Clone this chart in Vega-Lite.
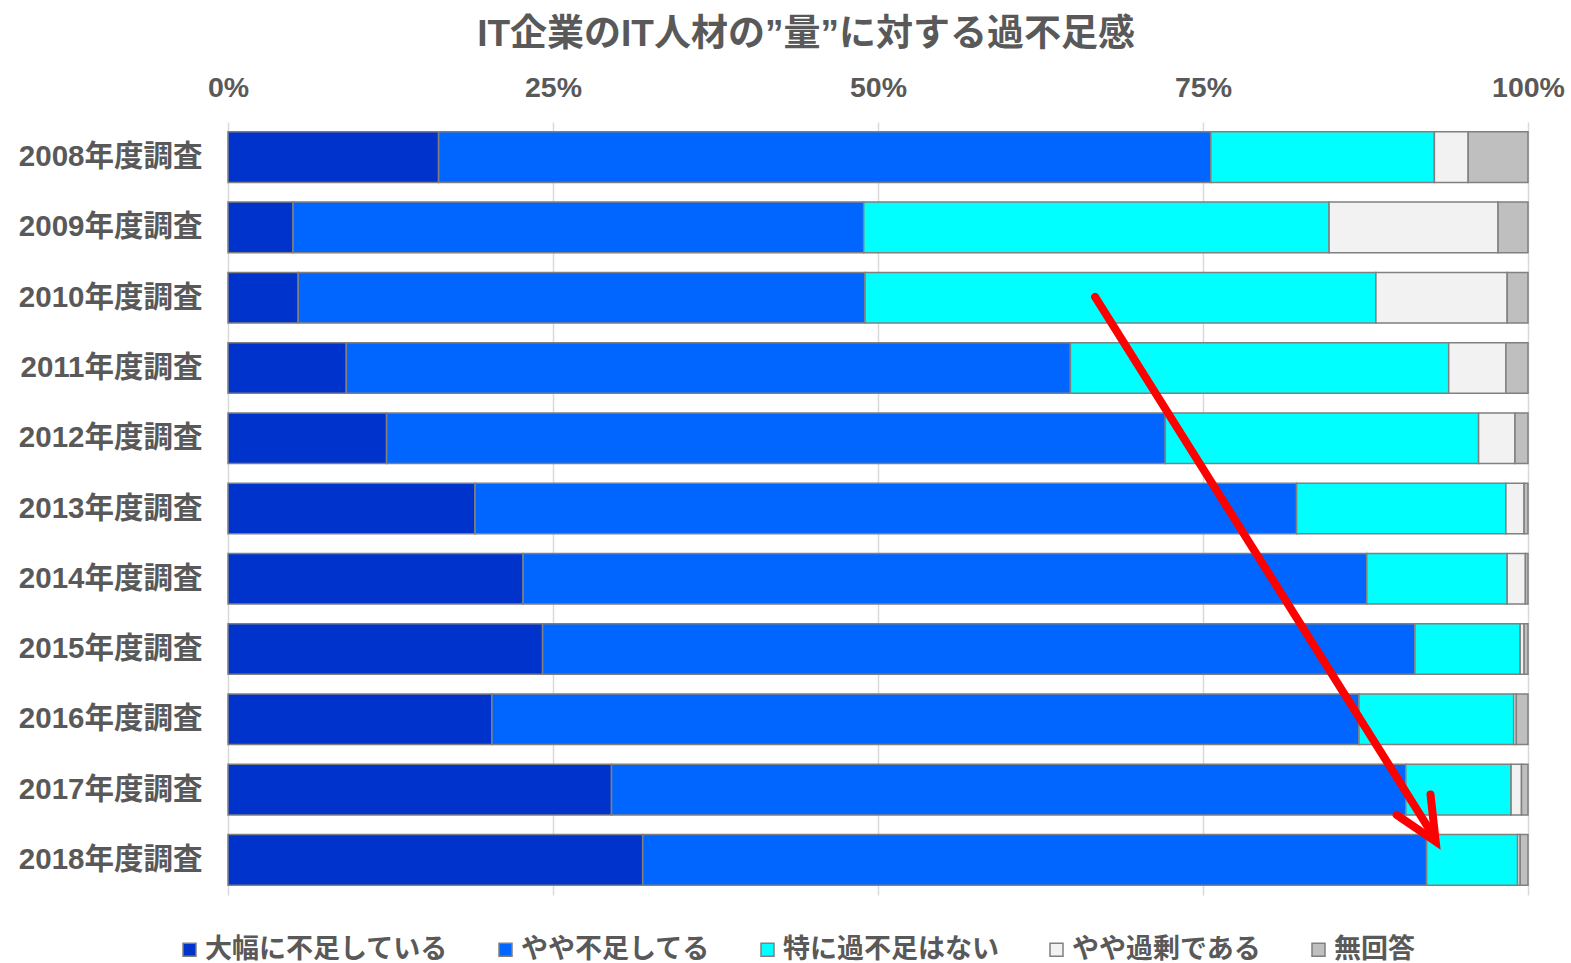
{
  "$schema": "https://vega.github.io/schema/vega-lite/v6.json",
  "autosize": {"type": "none"},
  "width": 1300,
  "height": 773,
  "padding": {"left": 228, "top": 122, "right": 43, "bottom": 68},
  "title": {
    "text": "IT企業のIT人材の”量”に対する過不足感",
    "fontSize": 37,
    "fontWeight": "bold",
    "color": "#595959",
    "anchor": "middle",
    "dx": -72,
    "offset": 19
  },
  "config": {
    "view": {"stroke": null},
    "font": "Liberation Sans, Noto Sans CJK JP"
  },
  "datasets": {
    "bars": [
      {"year": "2008年度調査", "cat": "大幅に不足している", "k": 0, "v": 16.2},
      {"year": "2008年度調査", "cat": "やや不足してる", "k": 1, "v": 59.4},
      {"year": "2008年度調査", "cat": "特に過不足はない", "k": 2, "v": 17.2},
      {"year": "2008年度調査", "cat": "やや過剰である", "k": 3, "v": 2.6},
      {"year": "2008年度調査", "cat": "無回答", "k": 4, "v": 4.6},
      {"year": "2009年度調査", "cat": "大幅に不足している", "k": 0, "v": 5.0},
      {"year": "2009年度調査", "cat": "やや不足してる", "k": 1, "v": 43.9},
      {"year": "2009年度調査", "cat": "特に過不足はない", "k": 2, "v": 35.8},
      {"year": "2009年度調査", "cat": "やや過剰である", "k": 3, "v": 13.0},
      {"year": "2009年度調査", "cat": "無回答", "k": 4, "v": 2.3},
      {"year": "2010年度調査", "cat": "大幅に不足している", "k": 0, "v": 5.4},
      {"year": "2010年度調査", "cat": "やや不足してる", "k": 1, "v": 43.6},
      {"year": "2010年度調査", "cat": "特に過不足はない", "k": 2, "v": 39.3},
      {"year": "2010年度調査", "cat": "やや過剰である", "k": 3, "v": 10.1},
      {"year": "2010年度調査", "cat": "無回答", "k": 4, "v": 1.6},
      {"year": "2011年度調査", "cat": "大幅に不足している", "k": 0, "v": 9.1},
      {"year": "2011年度調査", "cat": "やや不足してる", "k": 1, "v": 55.7},
      {"year": "2011年度調査", "cat": "特に過不足はない", "k": 2, "v": 29.1},
      {"year": "2011年度調査", "cat": "やや過剰である", "k": 3, "v": 4.4},
      {"year": "2011年度調査", "cat": "無回答", "k": 4, "v": 1.7},
      {"year": "2012年度調査", "cat": "大幅に不足している", "k": 0, "v": 12.2},
      {"year": "2012年度調査", "cat": "やや不足してる", "k": 1, "v": 59.9},
      {"year": "2012年度調査", "cat": "特に過不足はない", "k": 2, "v": 24.1},
      {"year": "2012年度調査", "cat": "やや過剰である", "k": 3, "v": 2.8},
      {"year": "2012年度調査", "cat": "無回答", "k": 4, "v": 1.0},
      {"year": "2013年度調査", "cat": "大幅に不足している", "k": 0, "v": 19.0},
      {"year": "2013年度調査", "cat": "やや不足してる", "k": 1, "v": 63.2},
      {"year": "2013年度調査", "cat": "特に過不足はない", "k": 2, "v": 16.1},
      {"year": "2013年度調査", "cat": "やや過剰である", "k": 3, "v": 1.4},
      {"year": "2013年度調査", "cat": "無回答", "k": 4, "v": 0.3},
      {"year": "2014年度調査", "cat": "大幅に不足している", "k": 0, "v": 22.7},
      {"year": "2014年度調査", "cat": "やや不足してる", "k": 1, "v": 64.9},
      {"year": "2014年度調査", "cat": "特に過不足はない", "k": 2, "v": 10.8},
      {"year": "2014年度調査", "cat": "やや過剰である", "k": 3, "v": 1.4},
      {"year": "2014年度調査", "cat": "無回答", "k": 4, "v": 0.2},
      {"year": "2015年度調査", "cat": "大幅に不足している", "k": 0, "v": 24.2},
      {"year": "2015年度調査", "cat": "やや不足してる", "k": 1, "v": 67.1},
      {"year": "2015年度調査", "cat": "特に過不足はない", "k": 2, "v": 8.1},
      {"year": "2015年度調査", "cat": "やや過剰である", "k": 3, "v": 0.3},
      {"year": "2015年度調査", "cat": "無回答", "k": 4, "v": 0.3},
      {"year": "2016年度調査", "cat": "大幅に不足している", "k": 0, "v": 20.3},
      {"year": "2016年度調査", "cat": "やや不足してる", "k": 1, "v": 66.7},
      {"year": "2016年度調査", "cat": "特に過不足はない", "k": 2, "v": 11.9},
      {"year": "2016年度調査", "cat": "やや過剰である", "k": 3, "v": 0.2},
      {"year": "2016年度調査", "cat": "無回答", "k": 4, "v": 0.9},
      {"year": "2017年度調査", "cat": "大幅に不足している", "k": 0, "v": 29.5},
      {"year": "2017年度調査", "cat": "やや不足してる", "k": 1, "v": 61.1},
      {"year": "2017年度調査", "cat": "特に過不足はない", "k": 2, "v": 8.1},
      {"year": "2017年度調査", "cat": "やや過剰である", "k": 3, "v": 0.8},
      {"year": "2017年度調査", "cat": "無回答", "k": 4, "v": 0.5},
      {"year": "2018年度調査", "cat": "大幅に不足している", "k": 0, "v": 31.9},
      {"year": "2018年度調査", "cat": "やや不足してる", "k": 1, "v": 60.3},
      {"year": "2018年度調査", "cat": "特に過不足はない", "k": 2, "v": 7.0},
      {"year": "2018年度調査", "cat": "やや過剰である", "k": 3, "v": 0.2},
      {"year": "2018年度調査", "cat": "無回答", "k": 4, "v": 0.6}
    ],
    "arrow": [
      {"g": "shaft", "o": 0, "ax": 66.7, "ay": 2.49},
      {"g": "shaft", "o": 1, "ax": 92.8, "ay": 10.18},
      {"g": "head", "o": 0, "ax": 92.5, "ay": 9.57},
      {"g": "head", "o": 1, "ax": 92.9, "ay": 10.24},
      {"g": "head", "o": 2, "ax": 89.9, "ay": 9.86}
    ]
  },
  "layer": [
    {
      "data": {"name": "bars"},
      "mark": {"type": "bar", "stroke": "#808080", "strokeWidth": 1.5},
      "encoding": {
        "y": {
          "field": "year",
          "type": "nominal",
          "sort": null,
          "scale": {"paddingInner": 0.28, "paddingOuter": 0.14},
          "axis": {
            "title": null,
            "domain": false,
            "ticks": false,
            "grid": false,
            "labelFontSize": 29.5,
            "labelFontWeight": "bold",
            "labelColor": "#595959",
            "labelPadding": 26,
            "labelLimit": 400
          }
        },
        "x": {
          "field": "v",
          "type": "quantitative",
          "stack": "zero",
          "scale": {"domain": [0, 100], "nice": false},
          "axis": {
            "orient": "top",
            "title": null,
            "values": [0, 25, 50, 75, 100],
            "labelExpr": "datum.value + '%'",
            "domain": false,
            "ticks": false,
            "grid": true,
            "gridColor": "#d9d9d9",
            "gridWidth": 1.5,
            "labelFlush": false,
            "labelOverlap": false,
            "labelFontSize": 28.5,
            "labelFontWeight": "bold",
            "labelColor": "#595959",
            "labelPadding": 20
          }
        },
        "order": {"field": "k", "type": "quantitative"},
        "color": {
          "field": "cat",
          "type": "nominal",
          "sort": ["大幅に不足している", "やや不足してる", "特に過不足はない", "やや過剰である", "無回答"],
          "scale": {
            "domain": ["大幅に不足している", "やや不足してる", "特に過不足はない", "やや過剰である", "無回答"],
            "range": ["#0033CC", "#0066FF", "#00FFFF", "#F2F2F2", "#BFBFBF"]
          },
          "legend": {
            "title": null,
            "orient": "none",
            "direction": "horizontal",
            "legendX": -52,
            "legendY": 814,
            "symbolType": "square",
            "symbolSize": 169,
            "symbolStrokeColor": "#808080",
            "symbolStrokeWidth": 1.5,
            "symbolOpacity": 1,
            "labelFontSize": 27,
            "labelFontWeight": "bold",
            "labelColor": "#595959",
            "labelOffset": 2,
            "labelLimit": 400,
            "columnPadding": 44
          }
        }
      }
    },
    {
      "data": {"name": "arrow"},
      "mark": {"type": "line", "color": "#FF0000", "strokeWidth": 8, "strokeCap": "round", "strokeJoin": "miter"},
      "encoding": {
        "x": {"field": "ax", "type": "quantitative", "scale": {"domain": [0, 100], "nice": false}},
        "y": {"field": "ay", "type": "quantitative", "scale": {"domain": [0, 11], "reverse": true, "nice": false, "zero": false}, "axis": null},
        "detail": {"field": "g", "type": "nominal"},
        "order": {"field": "o", "type": "quantitative"}
      }
    }
  ],
  "resolve": {"scale": {"y": "independent"}, "axis": {"y": "independent"}}
}
